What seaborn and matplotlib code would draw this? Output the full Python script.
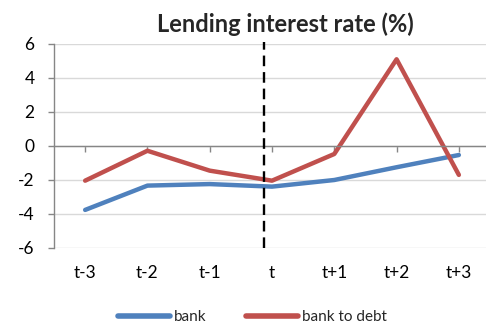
import numpy as np
import pandas as pd
import matplotlib
matplotlib.use("Agg")
import matplotlib.pyplot as plt
import seaborn as sns

periods = ["t-3", "t-2", "t-1", "t", "t+1", "t+2", "t+3"]
bank = [-3.76, -2.33, -2.24, -2.39, -2.0, -1.25, -0.53]
bank_to_debt = [-2.04, -0.28, -1.45, -2.04, -0.47, 5.1, -1.7]
series_names = ["bank", "bank to debt"]
yticks = [-6, -4, -2, 0, 2, 4, 6]
event_pos = 2.87  # event marker, just before period t

colors = {"bank": "#4F81BD", "bank to debt": "#C0504D"}

df = pd.DataFrame({
    "period": periods * 2,
    "value": bank + bank_to_debt,
    "series": [series_names[0]] * len(periods) + [series_names[1]] * len(periods),
})

sns.set_theme(style="white")
plt.rcParams["font.family"] = ["Lato", "DejaVu Sans"]

fig = plt.figure(figsize=(4.86, 3.31), dpi=100)
ax = fig.add_axes([54 / 486, 1 - 248 / 331, 436 / 486, 204 / 331])

sns.lineplot(data=df, x="period", y="value", hue="series", palette=colors,
             sort=False, linewidth=3.2, ax=ax, legend=False)

ax.set_xlim(-0.5, len(periods) - 0.5)
ax.set_ylim(-6, 6)
ax.set_yticks(yticks)
ax.set_yticklabels([str(v) for v in yticks])
ax.grid(axis="y", color="#D9D9D9", linewidth=1.0)
ax.grid(axis="x", visible=False)
ax.set_axisbelow(True)

for s in ["top", "right"]:
    ax.spines[s].set_visible(False)
ax.spines["left"].set_color("#868686")
ax.spines["left"].set_linewidth(1.0)
ax.spines["bottom"].set_position(("data", 0))
ax.spines["bottom"].set_color("#868686")
ax.spines["bottom"].set_linewidth(1.0)

ax.tick_params(axis="y", which="major", left=True, length=4, width=1,
               color="#868686", labelsize=12.5, pad=10, labelcolor="black")
ax.tick_params(axis="x", which="major", bottom=True, length=4, width=1,
               color="#868686", labelsize=12.5, pad=82, labelcolor="black")
ax.set_xlabel("")
ax.set_ylabel("")

ax.axvline(event_pos, color="black", linewidth=1.7, linestyle=(0, (4.5, 2.5)),
           ymin=0, ymax=1.01, clip_on=False, zorder=5)

ax.set_title("Lending interest rate (%)", fontsize=17, fontweight="bold",
             pad=9, loc="center", x=(285 - 54) / 436)

handles = [plt.Line2D([0], [0], color=colors[n], linewidth=4,
                      solid_capstyle="round") for n in series_names]
fig.legend(handles, series_names, loc="center", bbox_to_anchor=(252 / 486, 1 - 317 / 331),
           ncol=2, frameon=False, fontsize=11, handlelength=3.4,
           columnspacing=2.6, handletextpad=0.25)

fig.savefig("out.png", dpi=100)
